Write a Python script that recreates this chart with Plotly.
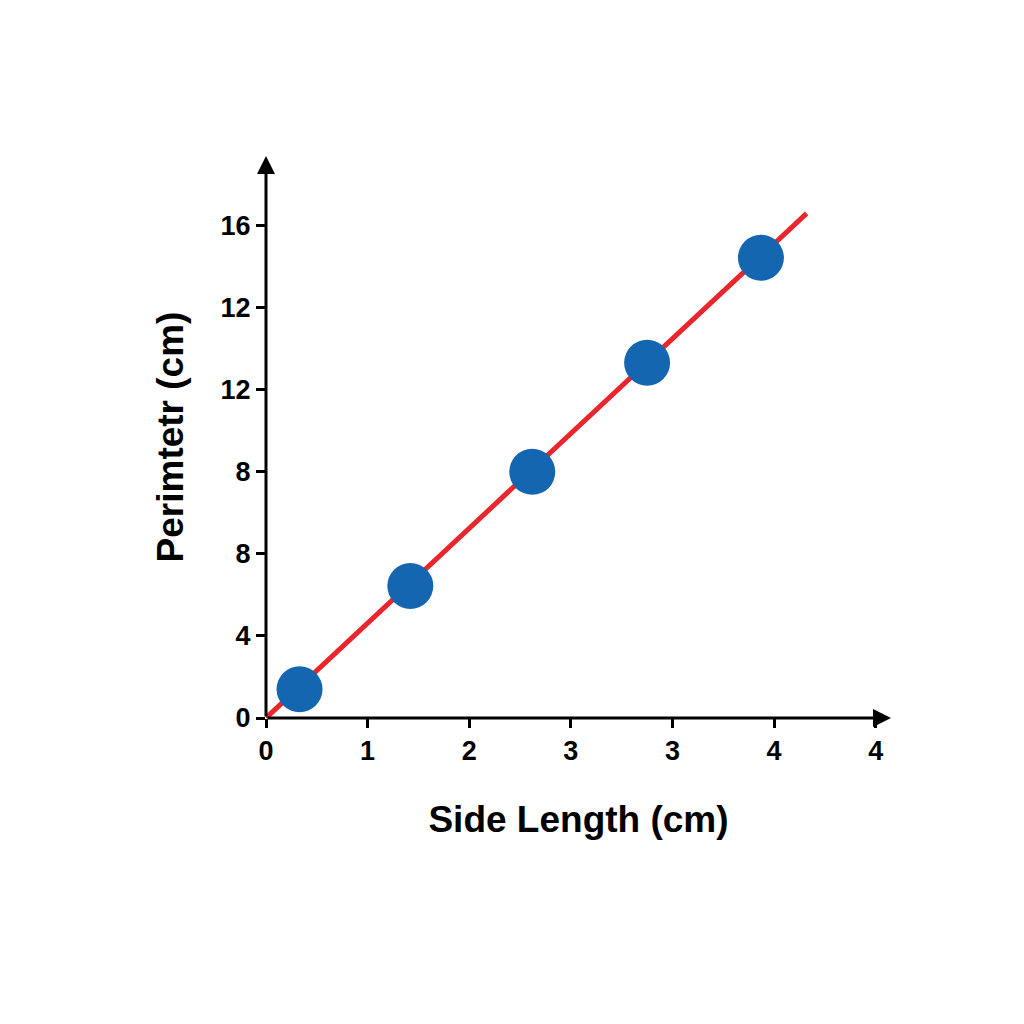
import plotly.graph_objects as go

# positions are in tick-slot units; the labels come from the picture
x_tick_vals = [0, 1, 2, 3, 4, 5, 6]
x_tick_text = ['0', '1', '2', '3', '3', '4', '4']
y_tick_vals = [0, 1, 2, 3, 4, 5, 6]
y_tick_text = ['0', '4', '8', '8', '12', '12', '16']

side = [0.33, 1.42, 2.62, 3.75, 4.87]
perimeter = [0.35, 1.61, 3.0, 4.33, 5.61]
fit_x = [0, 5.32]
fit_y = [0, 6.15]

fig = go.Figure()
fig.add_trace(go.Scatter(x=fit_x, y=fit_y, mode='lines',
                         line=dict(color='#e8262b', width=5), hoverinfo='skip'))
fig.add_trace(go.Scatter(x=side, y=perimeter, mode='markers',
                         marker=dict(color='#1566b0', size=46)))

axis_font = dict(family='Liberation Sans, Arial', size=27, color='black', weight='bold')
title_font = dict(family='Liberation Sans, Arial', size=37, color='black', weight='bold')
fig.update_xaxes(range=[0, 6.15], tickvals=x_tick_vals, ticktext=x_tick_text,
                 ticks='outside', ticklen=9, tickwidth=2.5, tickcolor='black',
                 showgrid=False, zeroline=False, showline=False, tickfont=axis_font,
                 title=dict(text='Side Length (cm)', standoff=40, font=title_font))
fig.update_yaxes(range=[0, 6.85], tickvals=y_tick_vals, ticktext=y_tick_text,
                 ticks='outside', ticklen=9, tickwidth=2.5, tickcolor='black',
                 showgrid=False, zeroline=False, showline=False, tickfont=axis_font,
                 title=dict(text='Perimtetr (cm)', standoff=25, font=title_font))

# axis lines with arrow heads
for hx, hy in [(6.15, 0), (0, 6.85)]:
    fig.add_annotation(x=hx, y=hy, ax=0, ay=0, xref='x', yref='y', axref='x', ayref='y',
                       text='', showarrow=True, arrowhead=2, arrowsize=1.2,
                       arrowwidth=3, arrowcolor='black')

fig.update_layout(width=1024, height=1024, showlegend=False,
                  plot_bgcolor='white', paper_bgcolor='white',
                  margin=dict(l=258, r=141, t=148, b=314))
fig.write_html('out.html')
